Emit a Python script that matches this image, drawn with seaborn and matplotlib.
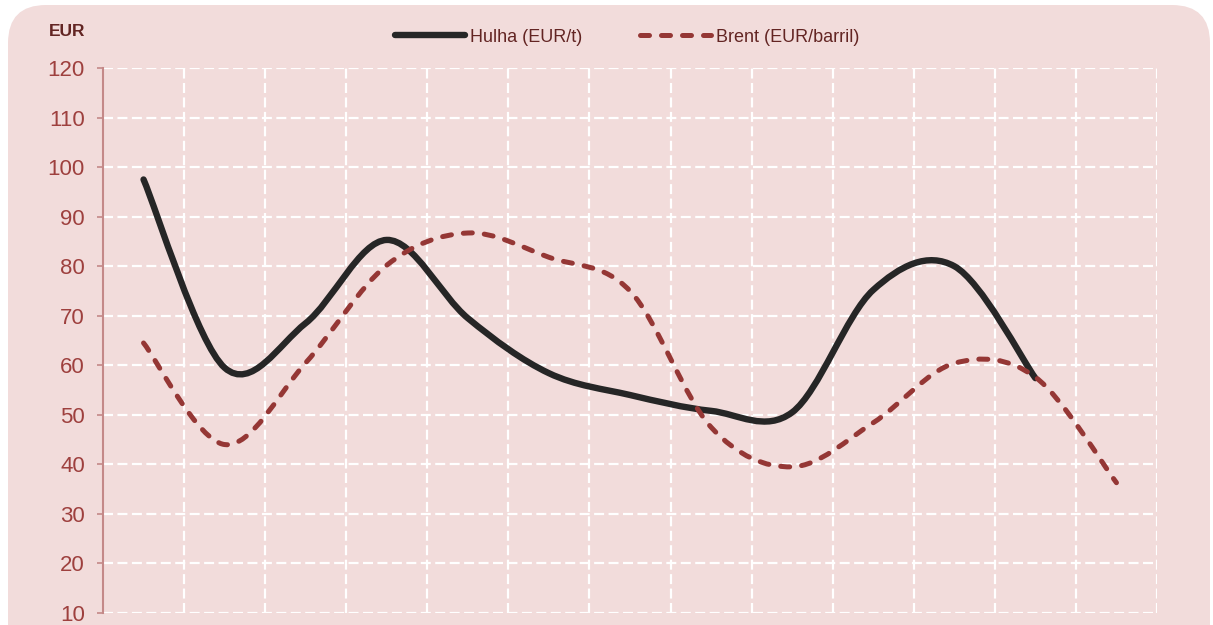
import matplotlib

matplotlib.use("Agg")

import matplotlib.pyplot as plt
import numpy as np
import seaborn as sns
from matplotlib.lines import Line2D
from matplotlib.patches import FancyBboxPatch, PathPatch
from matplotlib.path import Path

# values (13 periods, x labels not visible)
periods = list(range(13))
hulha = [97.5, 59.5, 68.5, 85.3, 69.5, 58.4, 54.0, 50.8, 50.5, 75.2, 80.0, 57.4, np.nan]
brent = [64.5, 44.0, 60.5, 80.2, 86.7, 81.8, 75.0, 47.5, 39.5, 48.4, 60.4, 57.6, 36.3]
series_labels = ["Hulha (EUR/t)", "Brent (EUR/barril)"]
y_ticks = list(range(10, 121, 10))

PINK = "#F2DCDB"
HULHA_COLOR = "#262626"
BRENT_COLOR = "#953735"
TICK_COLOR = "#9E403E"
DARK_RED = "#632523"
SPINE_COLOR = "#C48988"

W, H = 1213, 625


def smooth_path(x, y):
    # Excel-style smoothed line: cubic Bezier through each data point
    pts = np.column_stack([x, y])
    pts = pts[~np.isnan(pts[:, 1])]
    n = len(pts)
    verts = [pts[0]]
    codes = [Path.MOVETO]
    for i in range(n - 1):
        p0 = pts[max(i - 1, 0)]
        p1 = pts[i]
        p2 = pts[i + 1]
        p3 = pts[min(i + 2, n - 1)]
        verts += [p1 + (p2 - p0) / 6, p2 - (p3 - p1) / 6, p2]
        codes += [Path.CURVE4] * 3
    return Path(verts, codes)


sns.set_theme(style="white")
plt.rcParams["font.family"] = ["Liberation Sans", "DejaVu Sans"]

fig = plt.figure(figsize=(W / 100, H / 100), dpi=100, facecolor="white")
bg = FancyBboxPatch(
    (8, -60), 1202, 680,
    boxstyle="round,pad=0,rounding_size=38",
    transform=None, facecolor=PINK, edgecolor="none", zorder=-1,
)
fig.patches.append(bg)

ax = fig.add_axes([103 / W, 12 / H, (1157 - 103) / W, (613 - 68) / H])
ax.set_facecolor("none")

styles = [
    dict(color=HULHA_COLOR, lw=4.6, ls="-"),
    dict(color=BRENT_COLOR, lw=3.6, ls=(0, (1.8, 2.4))),
]
for values, st in zip([hulha, brent], styles):
    sns.lineplot(x=periods, y=values, ax=ax, color=st["color"], linewidth=st["lw"])
    line = ax.lines[-1]
    xd, yd = line.get_xdata(), line.get_ydata()
    line.set_visible(False)
    patch = PathPatch(
        smooth_path(np.asarray(xd, float), np.asarray(yd, float)),
        transform=ax.transData, fill=False, edgecolor=st["color"],
        linewidth=st["lw"], linestyle=st["ls"], capstyle="round",
        joinstyle="round", zorder=3,
    )
    ax.add_patch(patch)

ax.set_xlim(-0.5, 12.5)
ax.set_ylim(10, 120)
ax.set_xticks([p + 0.5 for p in periods])
ax.set_yticks(y_ticks)
ax.grid(True, color="white", linestyle=(0, (4.5, 2)), linewidth=1.6, zorder=1)
ax.set_axisbelow(True)
ax.tick_params(axis="x", length=0, labelbottom=False)
ax.tick_params(axis="y", length=4.5, width=1.2, color=SPINE_COLOR,
               labelsize=16, labelcolor=TICK_COLOR, pad=8.5, left=True)
for side in ["top", "right", "bottom"]:
    ax.spines[side].set_visible(False)
ax.spines["left"].set_color(SPINE_COLOR)
ax.spines["left"].set_linewidth(1.5)
ax.set_xlabel("")
ax.set_ylabel("")

fig.text(67 / W, 1 - 32 / H, "EUR", ha="center", va="center",
         fontsize=12.5, fontweight="bold", color=DARK_RED)

handles = [
    Line2D([], [], color=HULHA_COLOR, lw=4.6, solid_capstyle="round"),
    Line2D([], [], color=BRENT_COLOR, lw=3.6, linestyle=(0, (1.8, 2.4)),
           dash_capstyle="round"),
]
fig.legend(handles, series_labels, loc="center", bbox_to_anchor=(0.517, 1 - 37 / H),
           ncol=2, frameon=False, fontsize=13, handlelength=3.9,
           handletextpad=0.3, columnspacing=3.2, labelcolor=DARK_RED)

fig.savefig("out.png", dpi=100, facecolor="white")
